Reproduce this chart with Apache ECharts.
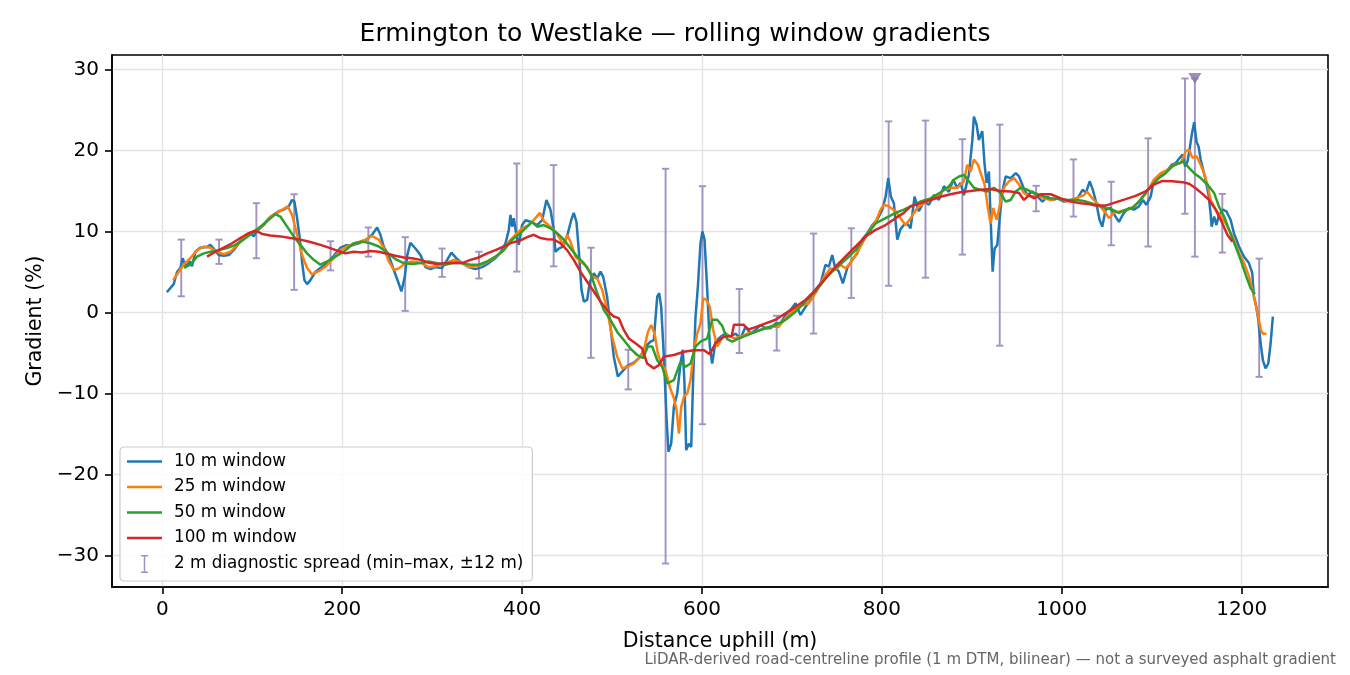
<!DOCTYPE html>
<html>
<head>
<meta charset="utf-8">
<script src="https://cdn.jsdelivr.net/npm/echarts@6/dist/echarts.min.js"></script>
<style>
html,body{margin:0;padding:0;background:#fff;}
#chart{width:1350px;height:675px;}
</style>
</head>
<body>
<div id="chart"></div>
<script>
// ---- data (distance uphill in m, gradient in %) ----
const xTicks = [0, 200, 400, 600, 800, 1000, 1200];
const yTicks = [-30, -20, -10, 0, 10, 20, 30];

const w10X = [5,12.6,16.3,20,22.6,25.6,31,33,36.7,42,49.7,53.4,57,62.6,68.2,73.8,79.3,86.7,92.3,97.9,101.6,105.3,112.7,118.3,123.8,129.4,134.9,140.5,144.2,146.8,149.8,152.7,155.3,157.9,160.9,164.6,170.2,175.7,183.2,190.6,198,204,211,218.3,225.8,233.2,238.8,242.4,246.2,251.8,257.3,262.1,265.8,269.5,272.5,275.8,281.4,287,292.5,298,303.6,311,316.6,321.4,327.7,333.3,340.6,348,355.5,362.9,370.3,375.9,381.5,385.2,387,388.9,390.7,393.3,396.3,400,403.7,409.3,413,416.7,422.3,427,431.5,435.2,437,440.7,444.5,450,454.5,457.4,460.4,463,466,468.6,472.3,475.3,479.7,483.4,487.1,490.1,494.5,498.2,501.9,506.4,511.2,516.8,524.2,531.6,537.2,542.7,546.4,550.2,552.4,554.6,557.6,560.5,562.7,565.7,568.7,572.4,576.1,578.7,580.5,582.4,585.3,588,590.2,592.8,595.4,598.3,600.5,602.8,605.8,608.7,611.3,615,620.6,626.2,631.7,637.2,642.8,648.4,654,659.5,665.1,670.7,676.2,681.8,687.3,692.9,698.4,704,709.5,715.1,720.7,726.2,731.8,737.3,741,744.8,747.7,752.1,756.6,761.5,767,772.6,778.2,783.7,789.3,794.8,800.4,804.1,807.1,810,813.3,817.1,820.7,824.4,828,831.9,836.3,841.1,846.7,852.3,857.8,863.4,869,874.5,879.3,883.8,887.4,891.2,896.7,900.4,902.3,905.3,907.8,911.6,914.2,916.4,919,921.6,923.1,925.3,928.3,931.3,933.9,937.6,943.2,948.8,952.5,957.4,961.8,967.4,973,978.5,984.1,989.7,995.2,1002.6,1010,1017.5,1023.1,1027,1031,1034.6,1038.4,1042,1045,1048.7,1054.3,1059.8,1063.5,1069.1,1074.6,1080.2,1085.8,1090.2,1094,1098.8,1102.5,1107.4,1112.5,1117.5,1122.3,1126.7,1131.2,1134.2,1137.1,1139.8,1142.3,1144.6,1147.2,1149.8,1152.1,1154.4,1157.3,1160.2,1163.2,1165.4,1166.6,1169.4,1172,1174.7,1179.2,1183,1187.7,1191.4,1197,1202.5,1208.1,1211.8,1213.6,1216.3,1218.5,1221.1,1223.6,1226.6,1229.6,1232.2,1234.7];
const w10Y = [2.5,3.5,5.0,5.5,6.7,5.7,6.3,5.7,7.5,8.0,8.1,8.35,7.9,7.1,7.0,7.1,7.7,8.8,9.5,9.8,9.4,10.1,10.8,11.65,12.1,12.5,12.7,13.1,13.9,13.7,11.65,9.2,6.3,4.0,3.5,4.0,5.0,5.5,6.1,7.0,8.0,8.3,8.3,8.55,8.9,9.6,10.5,9.6,8.1,7.0,5.25,3.8,2.6,4.4,7.2,8.6,7.9,7.1,5.6,5.35,5.6,5.5,6.5,7.4,6.6,6.1,5.6,5.35,5.6,6.1,6.7,7.4,8.55,10.2,12.05,10.6,11.65,9.8,8.35,10.8,11.4,11.2,11.0,10.8,11.4,13.9,12.7,10.2,7.5,7.9,8.1,9.4,11.4,12.3,11.2,7.7,2.8,1.35,1.55,3.8,4.85,4.2,5.05,4.4,1.95,-1.75,-5.45,-7.9,-7.3,-6.6,-6.2,-5.45,-4.2,-3.6,-3.4,1.95,2.4,0.7,-5.45,-12.9,-17.2,-16.2,-11.65,-10.0,-6.3,-4.6,-8.75,-17.0,-16.2,-16.6,-7.9,-0.5,3.2,8.55,10.0,9.0,2.8,-4.2,-6.3,-3.6,-3.0,-2.6,-3.0,-2.6,-3.2,-1.75,-2.6,-2.15,-1.55,-1.95,-1.95,-1.35,-1.35,-0.3,0.3,1.15,-0.3,0.7,1.55,2.8,3.6,5.9,5.65,7.1,5.65,5.05,3.6,5.5,6.5,7.3,9.0,9.8,10.8,11.45,12.7,14.3,16.6,14.3,13.5,9.0,10.3,10.8,11.0,10.4,14.3,12.5,13.7,13.3,14.5,13.9,15.6,14.9,16.4,15.4,16.0,14.5,17.0,21.1,24.2,23.2,21.3,22.4,18.25,16.0,17.4,9.6,5.05,7.9,8.35,12.05,14.95,16.8,16.6,17.2,16.8,15.4,14.5,14.95,14.3,13.7,14.3,13.9,14.1,13.7,13.9,14.1,15.15,14.8,16.2,15.15,13.5,11.45,10.6,12.7,12.9,11.85,11.2,12.3,12.9,12.7,13.1,13.9,13.3,14.3,16.4,16.8,17.0,17.6,18.25,18.45,19.1,19.5,18.05,18.65,20.3,22.0,23.5,21.1,20.5,18.9,17.6,16.2,14.5,12.3,10.6,11.85,10.8,12.05,12.7,12.5,11.45,9.8,8.15,6.9,6.1,4.85,1.95,0.7,-0.9,-3.8,-5.9,-6.9,-6.3,-3.8,-0.5];

const w25X = [12,23.7,31,38.6,46,53.4,60.8,68.2,75.6,83.1,90.4,97.9,105.3,112.7,120.1,127.6,134.9,139.4,144.2,149.8,155.3,160.9,166.5,173.8,181.3,188.7,198,205,214.6,225.8,233.2,240.6,246.2,251.8,257.3,262.9,270.2,277.7,287,296.2,305.5,314.7,324,333.3,340.6,350,359.2,368.4,377.8,385.2,392.6,400,407.4,414.8,419.6,424.8,431.5,437,442.6,446.3,450,453.7,459.3,464.8,472.3,477.8,483.4,489,494.5,500.1,505.7,511.2,516.8,524.2,529.8,535.3,539.8,543.5,547.2,550.9,554.6,559.4,564.2,568.7,571.7,574.3,576.9,579.9,583.6,587.2,590.9,594.7,598.3,601.3,605,608.7,612.4,616.9,622.5,628,635.4,642.8,650.3,659.5,668.7,678,685.4,692.9,702.1,711.4,718.8,726.2,731.8,737.3,742.9,748.4,754,759.5,765.1,770.7,778.2,785.5,793,798.5,802.2,807.7,815.2,820.7,826.3,831.9,839.3,846.7,854.1,861.5,869,876.3,883.8,891.2,894.9,898.6,902.3,906.7,910.5,914.2,917.9,920.9,923.8,927.5,931.3,935.7,941.3,946.8,952.5,958,965.5,972.9,980.3,987.7,997,1006.3,1015.5,1024.8,1028,1033.9,1041.3,1048.7,1052.4,1058,1065.4,1072.9,1080.2,1087.7,1095.1,1102.5,1110,1117.5,1124.8,1132.3,1137.8,1141.5,1145.3,1149.8,1154.4,1158.2,1162,1165.5,1171.3,1176.8,1182.4,1189.8,1197.2,1202.8,1208.3,1213.9,1217.6,1221.3,1223.9,1227.6];
const w25Y = [4.0,5.9,6.7,7.7,8.15,8.0,7.5,7.2,7.5,8.35,9.2,9.8,10.2,10.9,11.85,12.3,12.8,13.1,12.05,9.6,7.1,5.5,4.7,5.1,5.65,6.5,7.7,8.15,8.55,9.0,9.45,9.0,7.95,6.3,5.25,5.45,6.1,6.3,6.15,5.6,5.75,6.1,6.5,6.15,5.6,5.75,6.1,6.7,7.5,8.75,9.6,10.4,10.8,11.65,12.3,11.2,10.6,10.0,9.0,8.15,9.6,8.75,6.9,6.3,5.65,4.4,4.2,2.8,0.3,-3.0,-5.45,-6.9,-6.7,-6.3,-5.65,-4.65,-2.4,-1.55,-2.6,-5.05,-6.3,-7.1,-9.2,-10.6,-12.05,-14.95,-11.65,-10.4,-10.0,-8.35,-4.65,-2.6,-1.35,1.75,1.55,0.7,-2.15,-4.2,-3.1,-2.8,-3.2,-3.0,-2.6,-2.4,-1.95,-1.75,-1.75,-0.7,0.3,0.9,1.15,2.4,3.6,4.65,5.45,5.25,5.9,5.45,6.1,7.1,8.55,10.0,11.2,12.7,13.3,13.1,12.5,11.65,10.8,11.65,12.9,13.5,13.9,14.3,15.15,15.4,15.4,16.2,18.25,17.4,18.9,18.25,17.0,15.8,12.9,11.0,12.9,11.45,13.3,15.4,16.2,16.6,15.8,14.75,14.3,14.5,14.1,13.9,14.1,13.7,14.1,14.5,14.95,14.1,13.3,12.3,11.65,12.3,12.5,12.7,13.1,13.9,14.95,16.4,17.2,17.6,18.25,18.45,19.9,20.1,19.1,19.3,18.25,17.2,15.8,13.9,12.7,11.85,11.0,9.4,7.3,6.1,4.4,1.95,-0.1,-2.15,-2.65,-2.6];

const w50X = [24,31,38.6,46,53.4,62.6,71.9,81.2,90.4,99.8,109,118.3,125.7,131.2,138.7,146,153.5,160.9,168.3,175.7,183.2,192.4,201.6,212.7,222,231.3,240.6,249.9,259.1,268.4,277.7,287,296.2,305.5,314.7,324,333.3,342.5,351.8,361.1,370.3,379.6,388.9,398.1,405.6,411.1,416.7,424,431.5,438.9,446.3,453.7,461.1,468.6,476,483.4,490.8,498.2,505.7,513,520.5,527.9,534.5,539.8,544.6,550.2,555.7,561.3,568.7,576.1,581.7,587.2,592.8,598.3,605.8,611.3,616.9,622.5,628,633.6,641,650.3,659.5,670.7,681.8,692.9,704,715.1,726.2,737.3,748.4,759.5,770.7,781.8,793,804.1,815.2,824.4,831.9,843,854.1,865.3,874.5,880.1,885.7,891.2,896.7,902.3,909.7,917.1,924.5,931.9,937.6,943.2,948.8,954.3,961.8,969.1,976.6,985.9,995.2,1006.3,1017.5,1027,1037.6,1048.7,1056.2,1063.5,1071,1078.4,1085.8,1093.2,1100.7,1108,1115.5,1122.9,1130.2,1135.8,1141.5,1147.2,1154.4,1162,1169.4,1174.7,1180.5,1186,1193.3,1198.9,1204.5,1210,1214.8];
const w50Y = [5.5,5.9,6.9,7.3,7.5,7.7,7.95,8.35,9.0,9.8,10.6,11.45,12.15,11.85,10.6,9.4,8.35,7.3,6.5,5.9,6.3,6.9,7.5,8.55,8.75,8.55,8.15,7.4,6.6,6.1,6.0,6.1,6.3,6.1,5.9,6.15,6.1,5.9,5.9,6.3,6.9,7.7,9.0,9.8,10.6,11.2,10.6,10.8,10.4,9.8,9.0,7.95,6.9,6.1,4.85,2.4,0.3,-0.9,-2.4,-3.4,-4.45,-5.25,-5.65,-4.2,-4.2,-5.9,-6.7,-8.75,-8.35,-6.1,-6.7,-6.3,-4.2,-3.6,-3.2,-0.9,-0.9,-1.65,-3.3,-3.6,-3.2,-2.8,-2.4,-1.95,-1.55,-0.9,0.1,1.35,2.6,4.2,5.45,6.5,7.7,9.4,11.0,11.65,12.3,12.7,13.1,13.7,14.1,14.85,15.55,16.4,16.8,17.0,16.2,15.4,15.15,14.95,15.4,14.75,13.7,13.9,14.95,15.4,15.15,14.75,14.5,14.1,14.05,13.9,13.9,13.7,13.3,12.9,12.7,12.3,12.7,12.9,13.7,14.75,15.8,16.6,17.2,18.05,18.45,18.65,17.85,17.2,16.6,15.8,14.75,13.1,11.85,10.2,8.15,6.5,4.65,3.0,2.25];

const w100X = [49.7,59,68.2,77.5,86.7,96,103.4,110.9,120.1,131.2,142.3,153.5,164.6,175.7,186.8,194.3,203.5,212.7,222,231.3,240.6,249.9,259.1,268.4,277.7,287,296.2,305.5,314.7,324,333.3,342.5,351.8,361.1,370.3,379.6,388.9,398.1,405.6,413,420.4,427.8,435.2,442.6,450,457.4,464.8,472.3,479.7,487.1,494.5,501.9,507.5,513,518.6,526,533.5,539,546.4,552,557.6,568.7,579.9,590.9,602,608.7,615,624.2,633,635.5,646,651.7,659.5,670.7,681.8,692.9,704,715.1,726.2,737.3,748.4,759.5,770.7,781.8,793,804.1,815.2,824.4,831.9,843,854.1,865.3,876.3,887.4,898.6,909.7,920.9,931.9,943.2,952.5,958,963.6,969.1,976.6,987.7,998.9,1010,1021.2,1030,1037.6,1048.7,1059.8,1071,1082.1,1093.2,1102.5,1111.8,1122.9,1134.1,1141.5,1148.9,1156.4,1163.7,1171.1,1178.6,1184.1,1189.7];
const w100Y = [6.9,7.5,8.0,8.55,9.2,9.8,10.1,9.7,9.5,9.4,9.2,9.0,8.7,8.35,7.95,7.65,7.3,7.5,7.4,7.6,7.5,7.25,7.0,6.8,6.7,6.5,6.15,6.0,6.1,6.1,6.1,6.5,6.8,7.3,7.7,8.15,8.65,8.9,9.3,9.6,9.2,9.05,9.0,8.55,7.7,6.5,5.05,3.8,2.6,1.35,0.3,-0.5,-0.7,-2.15,-3.2,-3.8,-4.45,-6.3,-6.9,-6.5,-5.45,-5.25,-4.85,-4.65,-4.65,-5.15,-3.8,-3.0,-2.9,-1.5,-1.5,-2.1,-1.8,-1.35,-0.9,-0.1,0.7,1.55,2.8,4.2,5.65,6.9,8.15,9.4,10.2,10.8,11.65,12.3,13.1,13.5,13.9,14.3,14.6,14.85,15.0,15.15,15.25,15.0,14.95,14.75,13.9,14.5,14.1,14.6,14.6,14.1,13.7,13.5,13.4,13.2,13.2,13.6,14.0,14.4,14.95,15.8,16.25,16.2,16.1,15.9,15.35,14.65,13.9,12.7,11.0,9.6,8.75];

// 2 m diagnostic spread: centre distance, min, max
const spreadX  = [21,63,104.5,146.5,187,229,270,311,352,394,435,476.5,518,559.5,600.5,641.5,683,724,766,807.5,848.5,889.5,931,971.5,1013,1055,1096,1137,1148,1178.5,1219.5];
const spreadLo = [2.0,6.0,6.7,2.8,5.2,6.9,0.2,4.4,4.2,5.05,5.7,-5.6,-9.5,-31.0,-13.8,-5.0,-4.7,-2.6,1.8,3.3,4.3,7.15,-4.1,12.5,11.85,8.3,8.15,12.2,6.9,7.4,-7.95];
const spreadHi = [9.0,9.0,13.5,14.6,8.8,10.5,9.3,7.9,7.5,18.4,18.2,8.0,-4.6,17.75,15.6,2.9,-0.4,9.75,10.4,23.6,23.7,21.4,23.2,15.65,18.9,16.15,21.5,28.9,28.9,14.65,6.65];
// off-scale flag for the spread at 1148 m
const flagX = [1148];
const flagY = [28.9];

// ---- chart ----
const FONT = 'DejaVu Sans';
const colors = ['#1f77b4', '#ff7f0e', '#2ca02c', '#d62728'];
const errColor = '#a092c2';
const lineIcon = 'path://M0,0H35V2.5H0Z';
const pair = (xs, ys) => xs.map((x, i) => [x, ys[i]]);
const minusFmt = v => (v < 0 ? '\u2212' + Math.abs(v) : String(v));

function lineSeries(name, xs, ys, color) {
  return {
    name: name, type: 'line', data: pair(xs, ys),
    symbol: 'none', showSymbol: false, smooth: false,
    lineStyle: { color: color, width: 2.5 },
    itemStyle: { color: color },
    z: 3, silent: true, clip: true
  };
}

const chart = echarts.init(document.getElementById('chart'), null, { renderer: 'canvas' });
const option = {
  animation: false,
  backgroundColor: '#ffffff',
  title: {
    text: 'Ermington to Westlake \u2014 rolling window gradients',
    left: 'center', top: 22, padding: [0, 0, 0, 90],
    textStyle: { fontFamily: FONT, fontSize: 25, fontWeight: 'normal', color: '#000' }
  },
  grid: {
    left: 112, right: 22, top: 55, bottom: 88,
    show: true, borderColor: '#000', borderWidth: 1.6, backgroundColor: 'transparent',
    containLabel: false
  },
  legend: {
    orient: 'vertical', left: 120, top: 447,
    padding: [6, 9, 8, 7],
    itemWidth: 35, itemHeight: 18, itemGap: 8.5,
    backgroundColor: 'rgba(255,255,255,0.85)',
    borderColor: '#cccccc', borderWidth: 1.2, borderRadius: 4,
    textStyle: { fontFamily: FONT, fontSize: 16.8, color: '#000', padding: [0, 0, 0, 7] },
    data: [
      { name: '10 m window', icon: lineIcon },
      { name: '25 m window', icon: lineIcon },
      { name: '50 m window', icon: lineIcon },
      { name: '100 m window', icon: lineIcon },
      { name: '2 m diagnostic spread (min\u2013max, \u00b112 m)',
        icon: 'path://M0,0H7V1.5H4.25V16.5H7V18H0V16.5H2.75V1.5H0Z',
        itemStyle: { color: errColor } }
    ]
  },
  xAxis: {
    type: 'value', min: -56, max: 1296,
    name: 'Distance uphill (m)', nameLocation: 'middle', nameGap: 44,
    nameTextStyle: { fontFamily: FONT, fontSize: 20.5, color: '#000' },
    axisLine: { show: true, onZero: false, lineStyle: { color: '#000', width: 1.6 } },
    axisTick: { show: true, inside: false, length: 7, lineStyle: { color: '#000', width: 1.6 }, customValues: xTicks },
    axisLabel: { fontFamily: FONT, fontSize: 20, color: '#000', margin: 13, customValues: xTicks, formatter: minusFmt },
    splitLine: { show: true, lineStyle: { color: '#e3e3e3', width: 1.4 } }
  },
  yAxis: {
    type: 'value', min: -33.9, max: 31.8,
    name: 'Gradient (%)', nameLocation: 'middle', nameGap: 66,
    nameTextStyle: { fontFamily: FONT, fontSize: 20.5, color: '#000' },
    axisLine: { show: true, onZero: false, lineStyle: { color: '#000', width: 1.6 } },
    axisTick: { show: true, inside: false, length: 7, lineStyle: { color: '#000', width: 1.6 }, customValues: yTicks },
    axisLabel: { fontFamily: FONT, fontSize: 20, color: '#000', margin: 13, customValues: yTicks, formatter: minusFmt },
    splitLine: { show: true, lineStyle: { color: '#e3e3e3', width: 1.4 } }
  },
  series: [
    {
      name: '2 m diagnostic spread (min\u2013max, \u00b112 m)',
      type: 'custom', z: 2, silent: true,
      itemStyle: { color: errColor },
      data: spreadX.map((x, i) => [x, spreadLo[i], spreadHi[i]]),
      encode: { x: 0, y: [1, 2] },
      renderItem: function (params, api) {
        const x = api.value(0), lo = api.value(1), hi = api.value(2);
        const pLo = api.coord([x, lo]);
        const pHi = api.coord([x, hi]);
        const w = 3.6;
        const st = { stroke: errColor, lineWidth: 1.9, fill: null };
        return {
          type: 'group',
          children: [
            { type: 'line', shape: { x1: pLo[0], y1: pLo[1], x2: pHi[0], y2: pHi[1] }, style: st },
            { type: 'line', shape: { x1: pLo[0] - w, y1: pLo[1], x2: pLo[0] + w, y2: pLo[1] }, style: st },
            { type: 'line', shape: { x1: pHi[0] - w, y1: pHi[1], x2: pHi[0] + w, y2: pHi[1] }, style: st }
          ]
        };
      }
    },
    lineSeries('10 m window', w10X, w10Y, colors[0]),
    lineSeries('25 m window', w25X, w25Y, colors[1]),
    lineSeries('50 m window', w50X, w50Y, colors[2]),
    lineSeries('100 m window', w100X, w100Y, colors[3]),
    {
      name: 'off-scale', type: 'scatter', data: pair(flagX, flagY),
      symbol: 'triangle', symbolRotate: 180, symbolSize: [13, 11],
      itemStyle: { color: '#8576a8' }, z: 5, silent: true
    }
  ],
  graphic: [
    {
      type: 'text', x: 1336, y: 660, z: 10,
      style: {
        text: 'LiDAR-derived road-centreline profile (1 m DTM, bilinear) \u2014 not a surveyed asphalt gradient',
        align: 'right', verticalAlign: 'middle', textAlign: 'right', textVerticalAlign: 'middle',
        fontFamily: FONT, fontSize: 15, fill: '#666666'
      }
    }
  ]
};
chart.setOption(option);
</script>
</body>
</html>
